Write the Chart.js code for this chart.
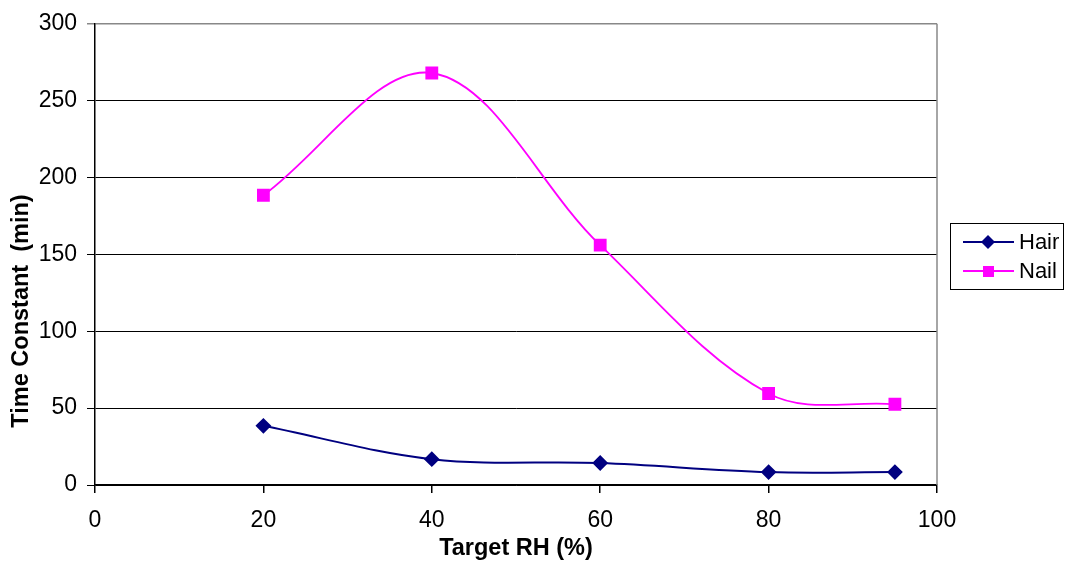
<!DOCTYPE html>
<html>
<head>
<meta charset="utf-8">
<script src="https://cdn.jsdelivr.net/npm/chart.js@4/dist/chart.umd.min.js"></script>
<style>
  html, body { margin: 0; padding: 0; background: #fff; }
  #wrap { width: 1067px; height: 563px; }
</style>
</head>
<body>
<div id="wrap"><canvas id="rhChart" width="1067" height="563"></canvas></div>
<script>
// Target RH values (x) and measured time constants
const targetRH = [20, 40, 60, 80, 95];
const hairValues = [38.5, 16.8, 14.3, 8.4, 8.4];
const nailValues = [188.5, 268, 156, 59.5, 52.5];
const yTicks = [0, 50, 100, 150, 200, 250, 300];
const xTicks = [0, 20, 40, 60, 80, 100];
const yTitle = 'Time Constant  (min)';

const toPoints = vals => vals.map((v, i) => ({ x: targetRH[i], y: v }));

// Boxed legend on the right, grey plot border and the y title (sits below centre)
const frameLegend = {
    id: 'frameLegend',
    afterDraw(chart) {
        const ctx = chart.ctx;
        const area = chart.chartArea;
        ctx.save();
        ctx.strokeStyle = '#888';
        ctx.lineWidth = 1.5;
        ctx.beginPath();
        ctx.moveTo(area.right, area.top);
        ctx.lineTo(area.right, area.bottom);
        ctx.stroke();

        ctx.save();
        ctx.translate(22, 311);
        ctx.rotate(-Math.PI / 2);
        ctx.font = 'bold 23.5px "Liberation Sans", Arial, sans-serif';
        ctx.fillStyle = '#000';
        ctx.textAlign = 'center';
        ctx.textBaseline = 'middle';
        ctx.fillText(yTitle, 0, 0);
        ctx.restore();

        const bx = 950, by = 223, bw = 113, bh = 66;
        ctx.strokeStyle = '#000';
        ctx.lineWidth = 1;
        ctx.strokeRect(bx + 0.5, by + 0.5, bw, bh);

        ctx.font = '22px "Liberation Sans", Arial, sans-serif';
        ctx.textBaseline = 'middle';
        chart.data.datasets.forEach((ds, i) => {
            const cy = by + 19 + i * 29;
            ctx.strokeStyle = ds.borderColor;
            ctx.lineWidth = 2;
            ctx.beginPath();
            ctx.moveTo(bx + 13, cy);
            ctx.lineTo(bx + 64, cy);
            ctx.stroke();
            ctx.fillStyle = ds.backgroundColor;
            ctx.beginPath();
            if (ds.pointStyle === 'rectRot') {
                ctx.moveTo(bx + 38, cy - 7);
                ctx.lineTo(bx + 45, cy);
                ctx.lineTo(bx + 38, cy + 7);
                ctx.lineTo(bx + 31, cy);
                ctx.closePath();
            } else {
                ctx.rect(bx + 33, cy - 5, 11, 11);
            }
            ctx.fill();
            ctx.fillStyle = '#000';
            ctx.fillText(ds.label, bx + 69, cy + 1);
        });
        ctx.restore();
    }
};

const tickFont = { family: '"Liberation Sans", Arial, sans-serif', size: 23 };
const titleFont = { family: '"Liberation Sans", Arial, sans-serif', size: 23.5, weight: 'bold' };

new Chart(document.getElementById('rhChart'), {
    type: 'scatter',
    data: {
        datasets: [
            {
                label: 'Hair',
                data: toPoints(hairValues),
                showLine: true,
                tension: 0.35,
                borderColor: '#000080',
                backgroundColor: '#000080',
                borderWidth: 2,
                pointStyle: 'rectRot',
                pointRadius: 6.5,
                pointHoverRadius: 6.5
            },
            {
                label: 'Nail',
                data: toPoints(nailValues),
                showLine: true,
                tension: 0.35,
                borderColor: '#FF00FF',
                backgroundColor: '#FF00FF',
                borderWidth: 1.8,
                pointStyle: 'rect',
                pointRadius: 7.8,
                pointHoverRadius: 7.8
            }
        ]
    },
    options: {
        responsive: false,
        animation: false,
        layout: { padding: { top: 21, right: 130, left: 0, bottom: 0 } },
        plugins: {
            legend: { display: false },
            tooltip: { enabled: false }
        },
        scales: {
            x: {
                type: 'linear',
                min: 0,
                max: 100,
                afterBuildTicks: s => { s.ticks = xTicks.map(v => ({ value: v })); },
                afterFit: s => { s.height = 78; },
                grid: { drawOnChartArea: false, tickLength: 8, color: '#000', lineWidth: 1.5 },
                border: { color: '#000', width: 1.5 },
                ticks: { color: '#000', font: tickFont, padding: 14 },
                title: { display: true, text: 'Target RH (%)', color: '#000', font: titleFont, padding: { top: 0, bottom: 0 } }
            },
            y: {
                min: 0,
                max: 300,
                afterBuildTicks: s => { s.ticks = yTicks.map(v => ({ value: v })); },
                afterFit: s => { s.width = 95; },
                grid: {
                    tickLength: 8,
                    color: c => (c.tick && c.tick.value === 300 ? '#888' : '#000'),
                    lineWidth: c => (c.tick && c.tick.value === 300 ? 1.5 : 1)
                },
                border: { color: '#000', width: 1.5 },
                ticks: { color: '#000', font: tickFont, padding: 10 }
            }
        }
    },
    plugins: [frameLegend]
});
</script>
</body>
</html>
